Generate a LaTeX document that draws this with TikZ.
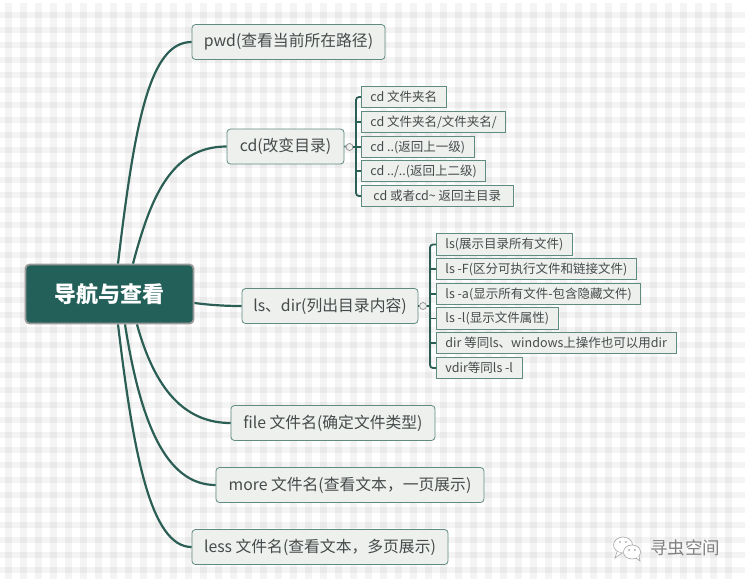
\documentclass[tikz,border=0pt]{standalone}
\usepackage{fontspec}
\setmainfont{Noto Sans CJK SC}
\usetikzlibrary{positioning, calc}
\definecolor{rootgreen}{HTML}{23605A}
\definecolor{linegreen}{HTML}{2B5F55}
\definecolor{boxline}{HTML}{5F8B80}
\definecolor{boxfill}{HTML}{EEF0EE}
\definecolor{boxtext}{HTML}{454B4A}
\tikzset{
  rootno/.style = {draw=black!40, fill=rootgreen, text=white, rounded corners=4pt,
    line width=1.8pt, minimum width=168pt, minimum height=59pt, inner sep=0pt,
    font=\fontsize{22}{26}\selectfont\bfseries},
  mainno/.style = {draw=boxline, fill=boxfill, text=boxtext, rounded corners=3.5pt,
    line width=0.8pt, minimum height=35pt, inner sep=0pt,
    font=\fontsize{15.8}{18}\selectfont},
  subno/.style = {draw=boxline, fill=boxfill, text=boxtext, line width=0.9pt,
    anchor=west, minimum height=21.5pt, inner ysep=0pt, inner xsep=9pt,
    font=\fontsize{12.5}{14}\selectfont},
  knob/.style = {circle, draw=black!45, fill=boxfill, line width=0.7pt,
    minimum size=7pt, inner sep=0pt},
  lmain/.style = {draw=linegreen, line width=2.2pt},
  lsub/.style = {draw=linegreen, line width=1.8pt},
  mark text/.style = {text=black!50, font=\fontsize{17.5}{20}\selectfont},
  bubble/.style = {draw=black!35, fill=white, line width=0.6pt}
}
\begin{document}
\begin{tikzpicture}[x=1pt, y=-1pt]
  \useasboundingbox (0,0) rectangle (745,582);
  \fill [white] (0,0) rectangle (745,582);
  \foreach \i in {0,...,48} {
    \fill [black, opacity=0.045] (5+15*\i,3) rectangle (12+15*\i,579);
  }
  \foreach \i in {0,...,37} {
    \fill [black, opacity=0.045] (0,12+15*\i) rectangle (745,18+15*\i);
  }
  \node [rootno] (root) at (109.5,294) {导航与查看};
  \node [mainno, minimum width=193pt] (pwd) at (288.5,42) {pwd(查看当前所在路径)};
  \node [mainno, minimum width=117pt] (cd) at (285.5,146.5) {cd(改变目录)};
  \node [mainno, minimum width=176pt] (ls) at (330,306) {ls、dir(列出目录内容)};
  \node [mainno, minimum width=204pt] (file) at (333,423) {file 文件名(确定文件类型)};
  \node [mainno, minimum width=268pt] (more) at (350,485) {more 文件名(查看文本，一页展示)};
  \node [mainno, minimum width=256pt] (less) at (320,547) {less 文件名(查看文本，多页展示)};

  \node [subno] (cda) at (361,97) {cd 文件夹名};
  \node [subno] (cdb) at (361,122) {cd 文件夹名/文件夹名/};
  \node [subno] (cdc) at (361,147) {cd ..(返回上一级)};
  \node [subno] (cdd) at (361,171) {cd ../..(返回上二级)};
  \node [subno, inner xsep=12pt] (cde) at (361,196) {cd 或者cd\textasciitilde{} 返回主目录};
  \node [knob] (cdk) at (349.5,147) {};
  \coordinate (cdsp) at (356,147);

  \node [subno] (lsa) at (436,244.5) {ls(展示目录所有文件)};
  \node [subno] (lsb) at (436,269) {ls -F(区分可执行文件和链接文件)};
  \node [subno] (lsc) at (436,294) {ls -a(显示所有文件-包含隐藏文件)};
  \node [subno] (lsd) at (436,318.5) {ls -l(显示文件属性)};
  \node [subno] (lse) at (436,343) {dir 等同ls、windows上操作也可以用dir};
  \node [subno] (lsf) at (436,368) {vdir等同ls -l};
  \node [knob] (lsk) at (423,306) {};
  \coordinate (lssp) at (430,306);

  \draw [lmain] ([xshift=8.5pt]root.north) .. controls (135,120) and (150,42) .. (pwd.west);
  \draw [lmain] ([xshift=23.5pt]root.north) .. controls (150,200) and (170,146.5) .. (cd.west);
  \draw [lmain] ([yshift=-9pt]root.east) .. controls (210,305) and (225,306) .. (ls.west);
  \draw [lmain] ([xshift=27.5pt]root.south) .. controls (155,390) and (185,423) .. (file.west);
  \draw [lmain] ([xshift=15.5pt]root.south) .. controls (140,420) and (165,485) .. (more.west);
  \draw [lmain] ([xshift=8.5pt]root.south) .. controls (133,450) and (150,547) .. (less.west);

  \draw [lsub] (cd.east) -- (cdk);
  \draw [lsub] (cdk) -- (cdsp);
  \draw [lsub, rounded corners=3pt] (cda.west) -- (cdsp |- cda.west) -- (cdsp |- cde.west) -- (cde.west);
  \foreach \n in {cdb,cdc,cdd} {
    \draw [lsub] (cdsp |- \n.west) -- (\n.west);
  }
  \draw [lsub] (ls.east) -- (lsk);
  \draw [lsub] (lsk) -- (lssp);
  \draw [lsub, rounded corners=3pt] (lsa.west) -- (lssp |- lsa.west) -- (lssp |- lsf.west) -- (lsf.west);
  \foreach \n in {lsb,lsc,lsd,lse} {
    \draw [lsub] (lssp |- \n.west) -- (\n.west);
  }

  \draw [bubble] (623,545) ellipse (9.5 and 8);
  \draw [bubble] (617,552) -- (615,558) -- (622,553);
  \draw [bubble] (632,552) ellipse (8.5 and 7);
  \draw [bubble] (636,558) -- (640,561) -- (639,556);
  \fill [black!45] (620,542) circle (0.8) (626,542) circle (0.8)
    (629,550) circle (0.8) (635,550) circle (0.8);
  \node [mark text] (mark) at (685,548) {寻虫空间};
\end{tikzpicture}
\end{document}
